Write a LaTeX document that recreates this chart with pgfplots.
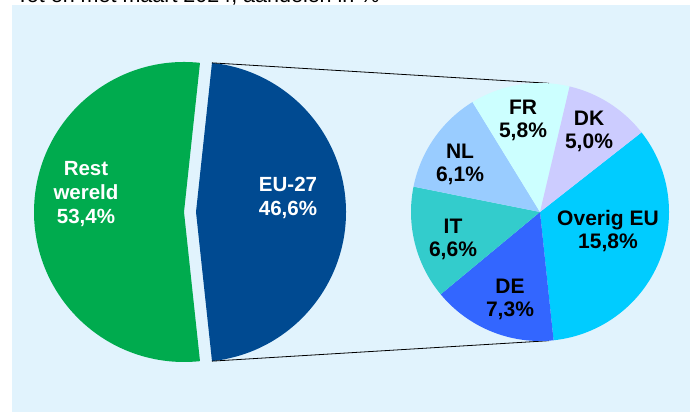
\documentclass[border=0pt]{standalone}
\usepackage{pgfplots}
\pgfplotsset{compat=1.18}
\usepackage{pgfplotstable}
\usepackage{fontspec}
\setmainfont{Liberation Sans}

\definecolor{bg}{HTML}{E1F3FD}
\definecolor{cGreen}{HTML}{00AB4E}
\definecolor{cBlue}{HTML}{004A91}
\definecolor{cOverig}{HTML}{00CCFF}
\definecolor{cDE}{HTML}{3366FF}
\definecolor{cIT}{HTML}{33CCCC}
\definecolor{cNL}{HTML}{99CCFF}
\definecolor{cFR}{HTML}{CCFFFF}
\definecolor{cDK}{HTML}{CCCCFF}

% aandelen in %
\pgfplotstableread{
name         value col
Rest         53.4  cGreen
EU           46.6  cBlue
}\leftpie

% uitsplitsing EU-27, met de klok mee vanaf 38 graden
\pgfplotstableread{
name         value col      lx   ly
{Overig EU}  15.8  cOverig  608  181
DE           7.3   cDE      510  113
IT           6.6   cIT      453  173
NL           6.1   cNL      460  248
FR           5.8   cFR      523  292
DK           5.0   cDK      589  281
}\rightpie

\begin{document}
\begin{tikzpicture}
\begin{axis}[
    x=1pt, y=1pt, scale only axis,
    xmin=0, xmax=694, ymin=0, ymax=412,
    hide axis,
    at={(0,0)}, anchor=south west,
    /pgf/number format/assume math mode=true,
  ]
  \fill[bg] (axis cs:12,0) rectangle (axis cs:690,407);
  \node[anchor=base west, font=\fontsize{21.5}{24}\selectfont, inner sep=0pt]
    at (axis cs:16,409.5) {Tot en met maart 2024, aandelen in \%};

  % linker taart
  \xdef\ang{83.88}
  \pgfplotsforeachungrouped \i in {0,1}{%
    \pgfplotstablegetelem{\i}{value}\of\leftpie \let\pval\pgfplotsretval
    \pgfplotstablegetelem{\i}{col}\of\leftpie \let\pcol\pgfplotsretval
    \pgfmathsetmacro\endang{\ang+\pval*3.6}
    \pgfmathsetmacro\mid{(\ang+\endang)/2}
    \pgfmathsetmacro\cx{190+6*cos(\mid)}
    \pgfmathsetmacro\cy{200+6*sin(\mid)}
    \edef\temp{\noexpand\fill[\pcol] (axis cs:\cx,\cy) -- ++(\ang:150pt)
      arc[start angle=\ang, end angle=\endang, radius=150pt] -- cycle;}
    \temp
    \xdef\ang{\endang}
  }

  % verbindingslijnen
  \draw[black, line width=0.8pt] (axis cs:196,200) ++(83.88:150pt) -- (axis cs:549,328.7);
  \draw[black, line width=0.8pt] (axis cs:196,200) ++(-83.88:150pt) -- (axis cs:549,71.3);

  % rechter taart
  \xdef\ang{38.1}
  \pgfplotsforeachungrouped \i in {0,...,5}{%
    \pgfplotstablegetelem{\i}{value}\of\rightpie \let\pval\pgfplotsretval
    \pgfplotstablegetelem{\i}{col}\of\rightpie \let\pcol\pgfplotsretval
    \pgfmathsetmacro\endang{\ang-\pval/46.6*360}
    \edef\temp{\noexpand\fill[\pcol] (axis cs:540,200) -- ++(\ang:129pt)
      arc[start angle=\ang, end angle=\endang, radius=129pt] -- cycle;}
    \temp
    \xdef\ang{\endang}
  }
  \pgfplotsforeachungrouped \i in {0,...,5}{%
    \pgfplotstablegetelem{\i}{value}\of\rightpie \let\pval\pgfplotsretval
    \pgfplotstablegetelem{\i}{name}\of\rightpie \let\nm\pgfplotsretval
    \pgfplotstablegetelem{\i}{lx}\of\rightpie \let\lx\pgfplotsretval
    \pgfplotstablegetelem{\i}{ly}\of\rightpie \let\ly\pgfplotsretval
    \edef\temp{\noexpand\node[align=center, inner sep=0pt,
        font=\noexpand\bfseries\noexpand\fontsize{21}{23}\noexpand\selectfont]
      at (axis cs:\lx,\ly) {\nm\noexpand\\\noexpand\pgfmathprintnumber[use comma,fixed,fixed zerofill,precision=1]{\pval}\noexpand\%};}
    \temp
  }

  \node[align=center, inner sep=0pt, text=white, font=\bfseries\fontsize{20.5}{24}\selectfont]
    at (axis cs:86,218) {Rest\\wereld\\53,4\%};
  \node[align=center, inner sep=0pt, text=white, font=\bfseries\fontsize{20.5}{24}\selectfont]
    at (axis cs:288,214) {EU-27\\46,6\%};
\end{axis}
\pgfresetboundingbox
\useasboundingbox (0,0) rectangle (694pt,412pt);
\end{tikzpicture}
\end{document}
